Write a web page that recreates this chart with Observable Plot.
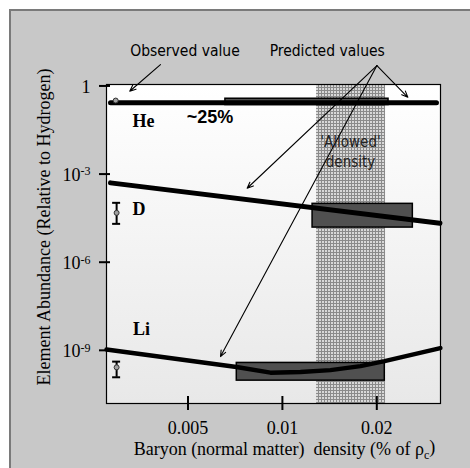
<!DOCTYPE html>
<html><head><meta charset="utf-8">
<script src="https://cdn.jsdelivr.net/npm/d3@7"></script>
<script src="https://cdn.jsdelivr.net/npm/@observablehq/plot@0.6"></script>
<style>
body{margin:0;background:#fff;}
#wrap{position:relative;width:470px;height:468px;overflow:hidden;}
#panel{position:absolute;left:9px;top:9px;width:480px;height:480px;background:#c8c8c8;border-left:2px solid #7a7a7a;border-top:2px solid #7a7a7a;}
#chart{position:absolute;left:0;top:0;}
</style></head><body>
<div id="wrap"><div id="panel"></div><div id="chart"></div></div>
<script>
// ---- data ----
const xDomain = [0.002748, 0.03193];
const yDomain = [1.55e-11, 1.12];
const xTicks = [0.005, 0.01, 0.02];
const xTickLabels = ["0.005", "0.01", "0.02"];
const yTicks = [1, 1e-3, 1e-6, 1e-9];
const yTickLabels = ["1", "10^-3", "10^-6", "10^-9"];
const allowedDensity = [0.01285, 0.02133];

const heCurve = [[0.00283, 0.27], [0.031, 0.27]];
const dCurve = [[0.00283, 5.02e-4], [0.0318, 2.11e-5]];
const liCurve = [[0.002748, 1.07e-9], [0.007139, 2.69e-10], [0.00916, 1.74e-10], [0.01142, 1.82e-10],
                 [0.01423, 2.12e-10], [0.01774, 2.9e-10], [0.02117, 4.3e-10], [0.0319, 1.19e-9]];

const boxElement = ["He", "D", "Li"];
const boxX1 = [0.00658, 0.01248, 0.007154];
const boxX2 = [0.0218, 0.02606, 0.02121];
const boxLow = [0.224, 1.51e-5, 9.3e-11];
const boxHigh = [0.367, 9.7e-5, 3.73e-10];

const observedElement = ["He", "D", "Li"];
const observedX = [0.00294, 0.00296, 0.00296];
const observedValue = [0.318, 4.78e-5, 2.64e-10];
const observedLow = [null, 2.02e-5, 1.21e-10];
const observedHigh = [null, 1.05e-4, 4.13e-10];

const arrowFromX = [0.004084, 0.02002, 0.02002, 0.02002];
const arrowFromY = [5.35, 4.95, 4.95, 4.95];
const arrowToX = [0.003259, 0.02512, 0.00772, 0.006347];
const arrowToY = [0.66, 0.412, 3.29e-4, 6.12e-10];

const noteText = ["Observed value", "Predicted values", "'Allowed'", "density"];
const noteX = [0.00489, 0.0139, 0.01649, 0.01649];
const noteY = [16.0, 16.0, 0.0121, 2.52e-3];

const elementText = ["He", "D", "Li"];
const elementX = [0.003606, 0.003488, 0.003553];
const elementY = [0.0614, 6.54e-5, 5.37e-9];

const heFraction = ["~25%"];
const heFractionX = [0.005875];
const heFractionY = [0.0859];

const yLabel = "Element Abundance (Relative to Hydrogen)";
const xLabel = "Baryon (normal matter)  density (% of ρc)";

// ---- tables ----
const boxes = boxElement.map((e, i) => ({e, x1: boxX1[i], x2: boxX2[i], y1: boxLow[i], y2: boxHigh[i]}));
const observed = observedElement.map((e, i) => ({e, x: observedX[i], v: observedValue[i], lo: observedLow[i], hi: observedHigh[i]}));
const bars = observed.filter(d => d.lo != null);
const caps = bars.flatMap(d => [{x: d.x, y: d.lo}, {x: d.x, y: d.hi}]);
const arrows = arrowFromX.map((x, i) => ({x1: x, y1: arrowFromY[i], x2: arrowToX[i], y2: arrowToY[i]}));
const notes = noteText.map((t, i) => ({t, x: noteX[i], y: noteY[i]}));
const elements = elementText.map((t, i) => ({t, x: elementX[i], y: elementY[i]}));
const fractions = heFraction.map((t, i) => ({t, x: heFractionX[i], y: heFractionY[i]}));
const xTickTable = xTicks.map((v, i) => ({v, t: xTickLabels[i]}));
const yTickTable = yTicks.map((v, i) => ({v, t: yTickLabels[i]}));

const serif = "Liberation Serif, Times New Roman, serif";
const comic = "Comic Sans MS, DejaVu Sans Condensed, DejaVu Sans, sans-serif";

const plot = Plot.plot({
  width: 470, height: 468,
  marginLeft: 106, marginRight: 30, marginTop: 84, marginBottom: 65,
  style: {background: "transparent", fontFamily: serif, overflow: "visible"},
  x: {type: "log", domain: xDomain, axis: null},
  y: {type: "log", domain: yDomain, axis: null},
  marks: [
    Plot.frame({fill: "url(#bgGrad)", stroke: null}),
    Plot.rect([allowedDensity], {x1: d => d[0], x2: d => d[1], fill: "url(#dots)"}),
    Plot.rect(boxes, {x1: "x1", x2: "x2", y1: "y1", y2: "y2", fill: "#505050", stroke: "black", strokeWidth: 1.5}),
    Plot.line(heCurve, {x: d => d[0], y: d => d[1], stroke: "black", strokeWidth: 5}),
    Plot.line(dCurve, {x: d => d[0], y: d => d[1], stroke: "black", strokeWidth: 5}),
    Plot.line(liCurve, {x: d => d[0], y: d => d[1], stroke: "black", strokeWidth: 4.5, strokeLinecap: "round", strokeLinejoin: "round"}),
    Plot.ruleX(bars, {x: "x", y1: "lo", y2: "hi", stroke: "black", strokeWidth: 2}),
    Plot.ruleY(caps, {y: "y", x1: "x", x2: "x", insetLeft: -4, insetRight: -4, stroke: "black", strokeWidth: 2}),
    Plot.dot(observed, {x: "x", y: "v", r: 2.5, fill: "#a0a0a0", stroke: "#333", strokeWidth: 1}),
    Plot.arrow(arrows, {x1: "x1", y1: "y1", x2: "x2", y2: "y2", stroke: "black", strokeWidth: 1.1, headLength: 9, headAngle: 45}),
    Plot.text(notes.slice(0, 2), {x: "x", y: "y", text: "t", fontFamily: comic, fontSize: 15.5, fill: "black"}),
    Plot.text(notes.slice(2), {x: "x", y: "y", text: "t", fontFamily: comic, fontSize: 15, fill: "#222"}),
    Plot.text(elements, {x: "x", y: "y", text: "t", fontFamily: serif, fontSize: 18, fontWeight: "bold", fill: "black"}),
    Plot.text(fractions, {x: "x", y: "y", text: "t", fontFamily: "Liberation Sans, Arial, sans-serif", fontSize: 18, fontWeight: "bold", fill: "black"}),
    Plot.frame({stroke: "black", strokeWidth: 1.2}),
    Plot.axisY(yTicks, {tickSize: 11, dx: 4, tickFormat: () => "", label: null, strokeWidth: 2, stroke: "black"}),
    Plot.axisX(xTicks, {tickSize: 14, dy: -7, tickFormat: () => "", label: null, strokeWidth: 2, stroke: "black"}),
    Plot.text(yTickTable, {y: "v", text: "t", frameAnchor: "left", textAnchor: "end", dx: -16, dy: 1, fontFamily: serif, fontSize: 18, fill: "black"}),
    Plot.text(xTickTable, {x: "v", text: "t", frameAnchor: "bottom", textAnchor: "middle", lineAnchor: "middle", dy: 24.5, fontFamily: serif, fontSize: 18, fill: "black"}),
    Plot.text([yLabel], {frameAnchor: "left", text: d => d, rotate: -90, textAnchor: "middle", lineAnchor: "middle", dx: -62, dy: -17, fontFamily: serif, fontSize: 18, fill: "black"}),
    Plot.text([xLabel], {frameAnchor: "bottom", text: d => d, textAnchor: "middle", lineAnchor: "middle", dx: 11, dy: 46, fontFamily: serif, fontSize: 18, fill: "black"})
  ]
});

// defs: background gradient and dotted pattern
const svg = d3.select(plot);
const defs = svg.insert("defs", ":first-child");
const g = defs.append("linearGradient").attr("id", "bgGrad").attr("x1", 0).attr("y1", 0).attr("x2", 0).attr("y2", 1);
g.append("stop").attr("offset", "0%").attr("stop-color", "#ffffff");
g.append("stop").attr("offset", "100%").attr("stop-color", "#e8e8e8");
const p = defs.append("pattern").attr("id", "dots").attr("width", 3).attr("height", 3).attr("patternUnits", "userSpaceOnUse");
p.append("rect").attr("width", 3).attr("height", 3).attr("fill", "#8a8a8a");
p.append("rect").attr("x", 1).attr("y", 1).attr("width", 2).attr("height", 2).attr("fill", "#d8d8d8");

// superscripts / subscripts
svg.selectAll("text").each(function() {
  const t = d3.select(this);
  const s = this.textContent;
  const m = /^10\^(-?\d+)$/.exec(s);
  if (m) {
    t.text(null);
    t.append("tspan").text("10");
    t.append("tspan").attr("dy", "-0.45em").attr("font-size", "12px").text(m[1]);
  } else if (s.includes("ρc")) {
    t.style("white-space", "pre").text(null);
    t.append("tspan").text(s.replace("ρc)", "ρ"));
    t.append("tspan").attr("dy", "0.3em").attr("font-size", "12px").text("c");
    t.append("tspan").attr("dy", "-0.3em").text(")");
  }
});

document.getElementById("chart").appendChild(plot);
</script>
</body></html>
